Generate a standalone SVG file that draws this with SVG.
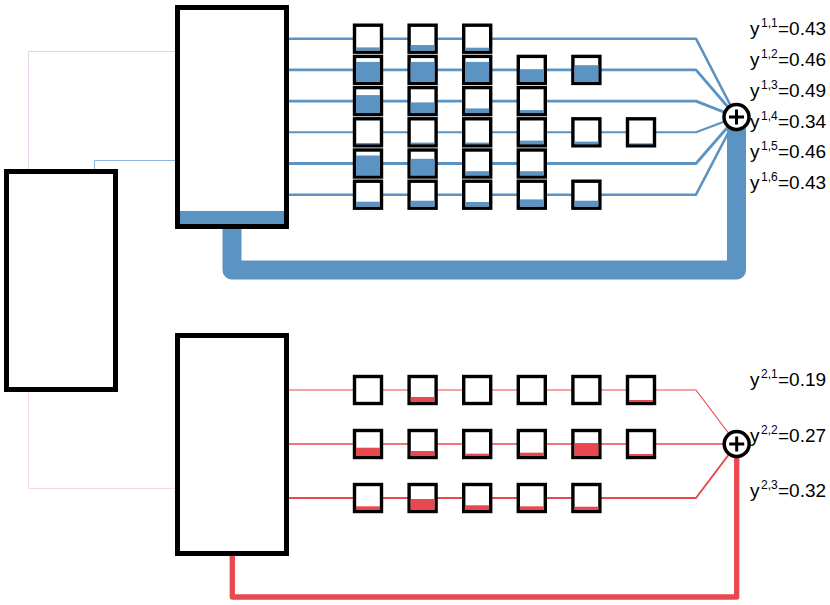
<svg xmlns="http://www.w3.org/2000/svg" width="830" height="605" viewBox="0 0 830 605">
<style>
.big{fill:#fff;stroke:#000;stroke-width:5}
.sb{fill:#fff;stroke:#000;stroke-width:3.4}
.bf{fill:#5b93c2}
.rf{fill:#e8494e}
.bl{fill:none;stroke:#5b93c2;stroke-linejoin:round}
.rl{fill:none;stroke:#e8494e;stroke-linejoin:round}
.sum{fill:#fff;stroke:#000;stroke-width:3.5}
.plus{stroke:#000;stroke-width:3;fill:none}
.lab{font-family:"Liberation Sans",Arial,sans-serif;font-size:19px;fill:#000}
.sup{font-size:12px}
</style>
<rect width="830" height="605" fill="#fff"/>
<g id="connectors">
<path d="M28.5,169 V51.5 H175" fill="none" stroke="#e8d2e8" stroke-width="1"/>
<path d="M94.5,169 V160.5 H175" fill="none" stroke="#8cb6dc" stroke-width="1"/>
<path d="M28.5,392 V488.5 H175" fill="none" stroke="#fcd8d8" stroke-width="1"/>
<path class="bl" stroke-width="19" d="M232,225 V270 H736.5 V117"/>
<path class="rl" stroke-width="5.3" d="M232.3,550 V597 H736.7 V444"/>
<path class="bl" stroke-width="2.6" d="M289,38.7 H696 L736.5,117"/>
<path class="bl" stroke-width="2.8" d="M289,69.9 H696 L736.5,117"/>
<path class="bl" stroke-width="2.9" d="M289,101.1 H696 L736.5,117"/>
<path class="bl" stroke-width="2.1" d="M289,132.3 H696 L736.5,117"/>
<path class="bl" stroke-width="2.8" d="M289,163.5 H696 L736.5,117"/>
<path class="bl" stroke-width="2.6" d="M289,194.7 H696 L736.5,117"/>
<path class="rl" stroke-width="1.2" d="M289,390 H696 L736.7,444"/>
<path class="rl" stroke-width="1.6" d="M289,444 H736.7"/>
<path class="rl" stroke-width="2" d="M289,498 H696 L736.7,444"/>
</g>
<g id="left-box"><rect class="big" x="6.5" y="171.5" width="109" height="218"/></g>
<g id="top-box"><rect class="big" x="177.5" y="7.5" width="109" height="219"/><rect class="bf" x="180" y="211" width="104" height="13"/></g>
<g id="bottom-box"><rect class="big" x="177.5" y="335.5" width="109" height="218"/></g>
<g id="blue-cells">
<g id="b11"><rect class="sb" x="354.5" y="25.2" width="27" height="27"/><rect class="bf" x="356" y="47.4" width="24" height="3.3"/></g>
<g id="b12"><rect class="sb" x="409.1" y="25.2" width="27" height="27"/><rect class="bf" x="410.6" y="45" width="24" height="5.7"/></g>
<g id="b13"><rect class="sb" x="463.7" y="25.2" width="27" height="27"/><rect class="bf" x="465.2" y="47.7" width="24" height="3"/></g>
<g id="b21"><rect class="sb" x="354.5" y="56.4" width="27" height="27"/><rect class="bf" x="356" y="61.9" width="24" height="20"/></g>
<g id="b22"><rect class="sb" x="409.1" y="56.4" width="27" height="27"/><rect class="bf" x="410.6" y="61.9" width="24" height="20"/></g>
<g id="b23"><rect class="sb" x="463.7" y="56.4" width="27" height="27"/><rect class="bf" x="465.2" y="61.9" width="24" height="20"/></g>
<g id="b24"><rect class="sb" x="518.3" y="56.4" width="27" height="27"/><rect class="bf" x="519.8" y="69.2" width="24" height="12.7"/></g>
<g id="b25"><rect class="sb" x="572.9" y="56.4" width="27" height="27"/><rect class="bf" x="574.4" y="65.2" width="24" height="16.7"/></g>
<g id="b31"><rect class="sb" x="354.5" y="87.6" width="27" height="27"/><rect class="bf" x="356" y="95.1" width="24" height="18"/></g>
<g id="b32"><rect class="sb" x="409.1" y="87.6" width="27" height="27"/><rect class="bf" x="410.6" y="102.4" width="24" height="10.7"/></g>
<g id="b33"><rect class="sb" x="463.7" y="87.6" width="27" height="27"/><rect class="bf" x="465.2" y="108.4" width="24" height="4.7"/></g>
<g id="b34"><rect class="sb" x="518.3" y="87.6" width="27" height="27"/><rect class="bf" x="519.8" y="110.1" width="24" height="3"/></g>
<g id="b41"><rect class="sb" x="354.5" y="118.8" width="27" height="27"/><rect class="bf" x="356" y="143" width="24" height="1.3"/></g>
<g id="b42"><rect class="sb" x="409.1" y="118.8" width="27" height="27"/><rect class="bf" x="410.6" y="142.6" width="24" height="1.7"/></g>
<g id="b43"><rect class="sb" x="463.7" y="118.8" width="27" height="27"/><rect class="bf" x="465.2" y="142.6" width="24" height="1.7"/></g>
<g id="b44"><rect class="sb" x="518.3" y="118.8" width="27" height="27"/><rect class="bf" x="519.8" y="140.6" width="24" height="3.7"/></g>
<g id="b45"><rect class="sb" x="572.9" y="118.8" width="27" height="27"/><rect class="bf" x="574.4" y="141.6" width="24" height="2.7"/></g>
<g id="b46"><rect class="sb" x="627.5" y="118.8" width="27" height="27"/><rect class="bf" x="629" y="143.3" width="24" height="1"/></g>
<g id="b51"><rect class="sb" x="354.5" y="150" width="27" height="27"/><rect class="bf" x="356" y="155.5" width="24" height="20"/></g>
<g id="b52"><rect class="sb" x="409.1" y="150" width="27" height="27"/><rect class="bf" x="410.6" y="158.8" width="24" height="16.7"/></g>
<g id="b53"><rect class="sb" x="463.7" y="150" width="27" height="27"/><rect class="bf" x="465.2" y="171.2" width="24" height="4.3"/></g>
<g id="b54"><rect class="sb" x="518.3" y="150" width="27" height="27"/><rect class="bf" x="519.8" y="171.2" width="24" height="4.3"/></g>
<g id="b61"><rect class="sb" x="354.5" y="181.2" width="27" height="27"/><rect class="bf" x="356" y="201.7" width="24" height="5"/></g>
<g id="b62"><rect class="sb" x="409.1" y="181.2" width="27" height="27"/><rect class="bf" x="410.6" y="200.7" width="24" height="6"/></g>
<g id="b63"><rect class="sb" x="463.7" y="181.2" width="27" height="27"/><rect class="bf" x="465.2" y="202" width="24" height="4.7"/></g>
<g id="b64"><rect class="sb" x="518.3" y="181.2" width="27" height="27"/><rect class="bf" x="519.8" y="199.4" width="24" height="7.3"/></g>
<g id="b65"><rect class="sb" x="572.9" y="181.2" width="27" height="27"/><rect class="bf" x="574.4" y="200.7" width="24" height="6"/></g>
</g>
<g id="red-cells">
<g id="r11"><rect class="sb" x="354.5" y="376.5" width="27" height="27"/></g>
<g id="r12"><rect class="sb" x="409.1" y="376.5" width="27" height="27"/><rect class="rf" x="410.6" y="397" width="24" height="5"/></g>
<g id="r13"><rect class="sb" x="463.7" y="376.5" width="27" height="27"/></g>
<g id="r14"><rect class="sb" x="518.3" y="376.5" width="27" height="27"/></g>
<g id="r15"><rect class="sb" x="572.9" y="376.5" width="27" height="27"/></g>
<g id="r16"><rect class="sb" x="627.5" y="376.5" width="27" height="27"/><rect class="rf" x="629" y="400" width="24" height="2"/></g>
<g id="r21"><rect class="sb" x="354.5" y="430.5" width="27" height="27"/><rect class="rf" x="356" y="447.7" width="24" height="8.3"/></g>
<g id="r22"><rect class="sb" x="409.1" y="430.5" width="27" height="27"/><rect class="rf" x="410.6" y="451" width="24" height="5"/></g>
<g id="r23"><rect class="sb" x="463.7" y="430.5" width="27" height="27"/><rect class="rf" x="465.2" y="453.7" width="24" height="2.3"/></g>
<g id="r24"><rect class="sb" x="518.3" y="430.5" width="27" height="27"/><rect class="rf" x="519.8" y="452.7" width="24" height="3.3"/></g>
<g id="r25"><rect class="sb" x="572.9" y="430.5" width="27" height="27"/><rect class="rf" x="574.4" y="443" width="24" height="13"/></g>
<g id="r26"><rect class="sb" x="627.5" y="430.5" width="27" height="27"/><rect class="rf" x="629" y="454" width="24" height="2"/></g>
<g id="r31"><rect class="sb" x="354.5" y="484.5" width="27" height="27"/><rect class="rf" x="356" y="506.3" width="24" height="3.7"/></g>
<g id="r32"><rect class="sb" x="409.1" y="484.5" width="27" height="27"/><rect class="rf" x="410.6" y="499" width="24" height="11"/></g>
<g id="r33"><rect class="sb" x="463.7" y="484.5" width="27" height="27"/><rect class="rf" x="465.2" y="505.3" width="24" height="4.7"/></g>
<g id="r34"><rect class="sb" x="518.3" y="484.5" width="27" height="27"/><rect class="rf" x="519.8" y="506.3" width="24" height="3.7"/></g>
<g id="r35"><rect class="sb" x="572.9" y="484.5" width="27" height="27"/><rect class="rf" x="574.4" y="506.7" width="24" height="3.3"/></g>
</g>
<g id="sum1"><circle class="sum" cx="736.5" cy="117" r="12.5"/><path class="plus" d="M729,117 H744 M736.5,109.5 V124.5"/></g>
<g id="sum2"><circle class="sum" cx="736.7" cy="444" r="12.5"/><path class="plus" d="M729.2,444 H744.2 M736.7,436.5 V451.5"/></g>
<g id="labels" class="lab">
<text x="750" y="35">y<tspan class="sup" x="761" dy="-8">1,1</tspan><tspan x="778" dy="8">=0.43</tspan></text>
<text x="750" y="66">y<tspan class="sup" x="761" dy="-8">1,2</tspan><tspan x="778" dy="8">=0.46</tspan></text>
<text x="750" y="96.5">y<tspan class="sup" x="761" dy="-8">1,3</tspan><tspan x="778" dy="8">=0.49</tspan></text>
<text x="750" y="127.5">y<tspan class="sup" x="761" dy="-8">1,4</tspan><tspan x="778" dy="8">=0.34</tspan></text>
<text x="750" y="158">y<tspan class="sup" x="761" dy="-8">1,5</tspan><tspan x="778" dy="8">=0.46</tspan></text>
<text x="750" y="189">y<tspan class="sup" x="761" dy="-8">1,6</tspan><tspan x="778" dy="8">=0.43</tspan></text>
<text x="750" y="386">y<tspan class="sup" x="761" dy="-8">2,1</tspan><tspan x="778" dy="8">=0.19</tspan></text>
<text x="750" y="442">y<tspan class="sup" x="761" dy="-8">2,2</tspan><tspan x="778" dy="8">=0.27</tspan></text>
<text x="750" y="497">y<tspan class="sup" x="761" dy="-8">2,3</tspan><tspan x="778" dy="8">=0.32</tspan></text>
</g>
</svg>
